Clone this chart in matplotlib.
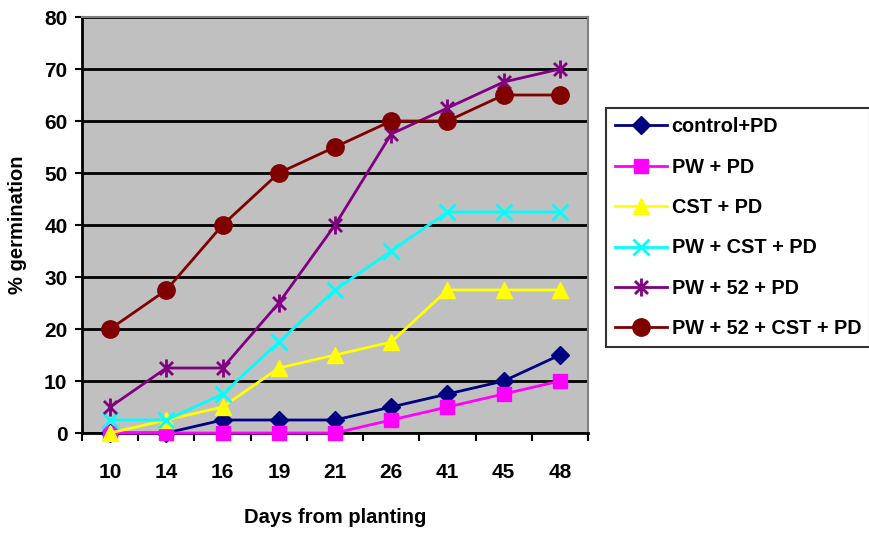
import matplotlib
matplotlib.use("Agg")
import matplotlib.pyplot as plt
from matplotlib.path import Path
import numpy as np

days = ["10", "14", "16", "19", "21", "26", "41", "45", "48"]

control_pd = [0, 0, 2.5, 2.5, 2.5, 5, 7.5, 10, 15]
pw_pd = [0, 0, 0, 0, 0, 2.5, 5, 7.5, 10]
cst_pd = [0, 2.5, 5, 12.5, 15, 17.5, 27.5, 27.5, 27.5]
pw_cst_pd = [2.5, 2.5, 7.5, 17.5, 27.5, 35, 42.5, 42.5, 42.5]
pw_52_pd = [5, 12.5, 12.5, 25, 40, 57.5, 62.5, 67.5, 70]
pw_52_cst_pd = [20, 27.5, 40, 50, 55, 60, 60, 65, 65]

labels = ["control+PD", "PW + PD", "CST + PD", "PW + CST + PD",
          "PW + 52 + PD", "PW + 52 + CST + PD"]

plt.rcParams["font.family"] = ["Liberation Sans", "DejaVu Sans"]
plt.rcParams["font.weight"] = "bold"

# asterisk marker: vertical stroke plus an X
d = 0.72
asterisk = Path(
    [(0, -1), (0, 1), (-d, -d), (d, d), (-d, d), (d, -d)],
    [Path.MOVETO, Path.LINETO, Path.MOVETO, Path.LINETO, Path.MOVETO, Path.LINETO],
)

fig = plt.figure(figsize=(8.69, 5.33), dpi=100)
ax = fig.add_axes([0.0944, 0.1876, 0.5823, 0.7805])
ax.set_facecolor("#C0C0C0")

x = np.arange(len(days))
series = [
    (control_pd, "#000080", "D", 9, {}),
    (pw_pd, "#FF00FF", "s", 10, {}),
    (cst_pd, "#FFFF00", "^", 11, {}),
    (pw_cst_pd, "#00FFFF", "x", 11, {"markeredgewidth": 2}),
    (pw_52_pd, "#800080", asterisk, 13, {"markeredgewidth": 2}),
    (pw_52_cst_pd, "#800000", "o", 12.5, {}),
]
handles = []
for (vals, col, mk, ms, kw), lab in zip(series, labels):
    h, = ax.plot(x, vals, color=col, lw=2, marker=mk, markersize=ms,
                 markerfacecolor=col, markeredgecolor=col, label=lab,
                 clip_on=False, zorder=3, **kw)
    handles.append(h)

ax.set_xlim(-0.5, len(days) - 0.5)
ax.set_ylim(0, 80)
ax.set_yticks(np.arange(0, 81, 10))
ax.set_xticks(x)
ax.set_xticklabels(days)
ax.set_xticks(np.arange(-0.5, len(days), 1.0), minor=True)
ax.tick_params(axis="x", which="major", length=0, pad=21.5, labelsize=15)
ax.tick_params(axis="x", which="minor", length=6, width=1.5, direction="out")
ax.tick_params(axis="y", length=5, width=1.5, direction="out", labelsize=15, pad=5.5)
for t in ax.get_xticklabels() + ax.get_yticklabels():
    t.set_fontweight("bold")

ax.yaxis.grid(True, color="black", lw=2)
ax.set_axisbelow(True)
for side in ("top", "right"):
    ax.spines[side].set_color("#808080")
    ax.spines[side].set_linewidth(1.5)
for side in ("left", "bottom"):
    ax.spines[side].set_color("black")
    ax.spines[side].set_linewidth(2)

ax.set_xlabel("Days from planting", fontsize=14.5, fontweight="bold", labelpad=19)
ax.set_ylabel("% germination", fontsize=14.5, fontweight="bold", labelpad=12)

leg = fig.legend(handles=handles, loc="upper left", bbox_to_anchor=(0.6975, 0.797),
                 frameon=True, fancybox=False, edgecolor="black",
                 prop={"size": 14.3, "weight": "bold"}, handlelength=2.6,
                 handletextpad=0.25, labelspacing=1.08, borderpad=0.45,
                 borderaxespad=0)
leg.get_frame().set_linewidth(1.5)

fig.savefig("out.png", dpi=100)
